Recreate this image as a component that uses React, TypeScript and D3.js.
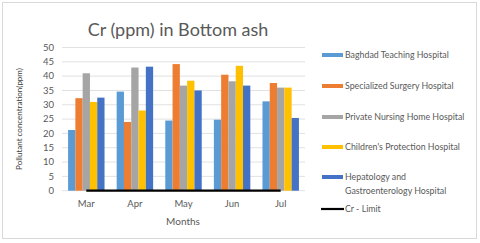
import React, { useEffect, useRef } from 'react';
import * as d3 from 'd3';

const months = ['Mar', 'Apr', 'May', 'Jun', 'Jul'];
const seriesNames = [
  'Baghdad Teaching Hospital',
  'Specialized Surgery Hospital',
  'Private Nursing Home Hospital',
  "Children's Protection Hospital",
  'Hepatology and Gastroenterology Hospital',
];
const baghdad = [21.2, 34.6, 24.5, 24.8, 31.2];
const surgery = [32.3, 24.0, 44.2, 40.5, 37.6];
const nursing = [41.0, 43.0, 36.7, 38.2, 36.0];
const children = [31.0, 28.0, 38.4, 43.6, 36.0];
const hepatology = [32.5, 43.3, 35.0, 36.7, 25.4];
const crLimit = [0.05, 0.05, 0.05, 0.05, 0.05];
const yTicks = [0, 5, 10, 15, 20, 25, 30, 35, 40, 45, 50];
const colors = ['#5B9BD5', '#ED7D31', '#A5A5A5', '#FFC000', '#4472C4'];

const App = () => {
  const ref = useRef<SVGSVGElement>(null);

  useEffect(() => {
    const width = 480;
    const height = 243;
    const margin = { top: 47.5, left: 62, right: 175, bottom: 52 };
    const font = 'Lato, "Open Sans", sans-serif';
    const series = [baghdad, surgery, nursing, children, hepatology];

    const svg = d3.select(ref.current).attr('width', width).attr('height', height);
    svg.selectAll('*').remove();

    // chart frame
    svg.append('rect')
      .attr('x', 2.5).attr('y', 2.5)
      .attr('width', 474).attr('height', 236)
      .attr('fill', '#fff').attr('stroke', '#D9D9D9');

    const x = d3.scaleBand().domain(months).range([margin.left, 305]).paddingInner(0.25).paddingOuter(0.125);
    const inner = d3.scaleBand().domain(d3.range(5).map(String)).range([0, x.bandwidth()]);
    const y = d3.scaleLinear().domain([0, 50]).range([190.7, margin.top]);

    // gridlines
    svg.append('g').selectAll('line')
      .data(yTicks)
      .join('line')
      .attr('x1', margin.left).attr('x2', 305)
      .attr('y1', d => y(d)).attr('y2', d => y(d))
      .attr('stroke', '#D9D9D9').attr('stroke-width', 0.8);

    // y tick labels
    svg.append('g').selectAll('text')
      .data(yTicks)
      .join('text')
      .attr('x', 54).attr('y', d => y(d) + 3.3)
      .attr('text-anchor', 'end')
      .attr('font-family', font).attr('font-size', 9.5)
      .attr('fill', '#595959')
      .text(d => d);

    // bars
    series.forEach((vals, i) => {
      svg.append('g').selectAll('rect')
        .data(vals)
        .join('rect')
        .attr('x', (d, j) => (x(months[j]) as number) + (inner(String(i)) as number))
        .attr('y', d => y(d))
        .attr('width', inner.bandwidth())
        .attr('height', d => y(0) - y(d))
        .attr('fill', colors[i]);
    });

    // Cr limit line
    const line = d3.line<number>()
      .x((d, j) => (x(months[j]) as number) + x.bandwidth() / 2)
      .y(d => y(d));
    svg.append('path')
      .datum(crLimit)
      .attr('d', line)
      .attr('fill', 'none')
      .attr('stroke', '#000')
      .attr('stroke-width', 2.2);

    // month labels
    svg.append('g').selectAll('text')
      .data(months)
      .join('text')
      .attr('x', d => (x(d) as number) + x.bandwidth() / 2)
      .attr('y', 207)
      .attr('text-anchor', 'middle')
      .attr('font-family', font).attr('font-size', 9.5)
      .attr('fill', '#595959')
      .text(d => d);

    // axis titles
    svg.append('text')
      .attr('x', 183).attr('y', 225)
      .attr('text-anchor', 'middle')
      .attr('font-family', font).attr('font-size', 10)
      .attr('fill', '#595959')
      .text('Months');

    svg.append('text')
      .attr('transform', 'rotate(-90)')
      .attr('x', -119).attr('y', 22)
      .attr('text-anchor', 'middle')
      .attr('font-family', font).attr('font-size', 8)
      .attr('fill', '#404040')
      .text('Pollutant concentration(ppm)');

    // title
    svg.append('text')
      .attr('x', 178).attr('y', 36)
      .attr('text-anchor', 'middle')
      .attr('font-family', font).attr('font-size', 18)
      .attr('fill', '#595959')
      .text('Cr (ppm) in Bottom ash');

    // legend
    const legendY = [55, 86, 117, 147, 177];
    const legend = svg.append('g');
    seriesNames.forEach((name, i) => {
      legend.append('rect')
        .attr('x', 322).attr('y', legendY[i] - 2)
        .attr('width', 21).attr('height', 4)
        .attr('fill', colors[i]);
      const t = legend.append('text')
        .attr('x', 345).attr('y', legendY[i] + 3)
        .attr('font-family', font).attr('font-size', 8.8)
        .attr('fill', '#595959');
      if (i === 4) {
        t.append('tspan').attr('x', 345).text('Hepatology and');
        t.append('tspan').attr('x', 345).attr('dy', 14).text('Gastroenterology Hospital');
      } else {
        t.text(name);
      }
    });
    legend.append('line')
      .attr('x1', 321).attr('x2', 344)
      .attr('y1', 209).attr('y2', 209)
      .attr('stroke', '#000').attr('stroke-width', 2.2);
    legend.append('text')
      .attr('x', 345).attr('y', 212)
      .attr('font-family', font).attr('font-size', 8.8)
      .attr('fill', '#595959')
      .text('Cr - Limit');
  }, []);

  return <svg ref={ref} style={{ position: 'absolute', left: 0, top: 0 }}></svg>;
};

export default App;
